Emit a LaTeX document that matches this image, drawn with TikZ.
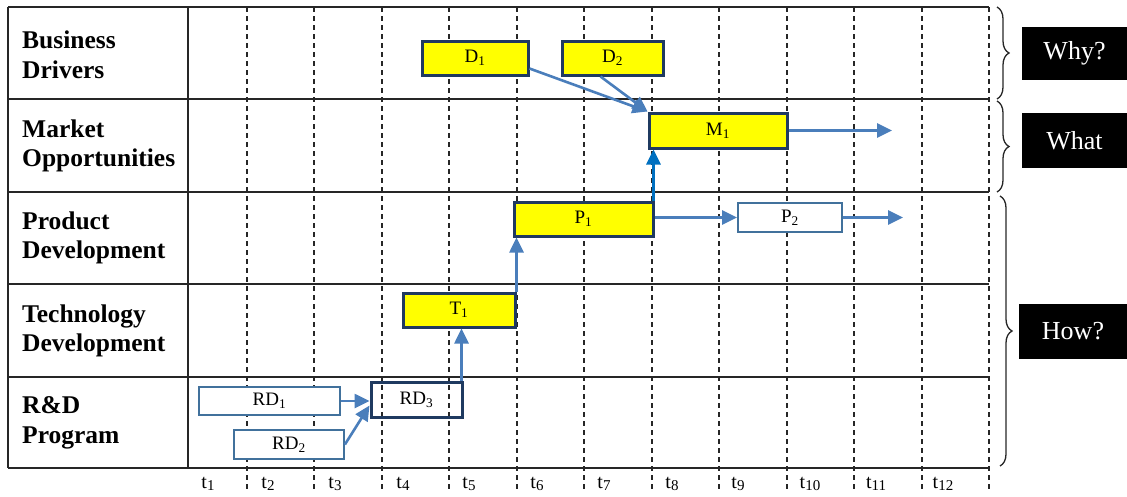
\documentclass[tikz,border=0pt]{standalone}
\usepackage{fontspec}
\setmainfont{Liberation Serif}
\usetikzlibrary{arrows.meta,decorations.pathreplacing,calc}
\definecolor{navy}{HTML}{1F3A60}
\definecolor{arrowblue}{HTML}{4A7EBB}
\definecolor{brightblue}{HTML}{0070C0}
\definecolor{thinblue}{HTML}{41719C}
\definecolor{hlyellow}{HTML}{FFFF00}
% time index: a large subscript
\newcommand{\tsub}[1]{t\raisebox{-0.28ex}{\fontsize{15}{15}\selectfont #1}}

\begin{document}
\begin{tikzpicture}[x=1pt,y=-1pt,
  gridline/.style={line width=1.3pt, black!85},
  timeline/.style={line width=1.1pt, dash pattern=on 5pt off 4pt, black!85},
  rowlabel/.style={anchor=west, align=left, inner sep=0pt,
    font=\fontsize{25.5}{29.5}\selectfont\bfseries},
  boxtext/.style={inner sep=0pt, font=\fontsize{19}{21}\selectfont},
  keybox/.style={boxtext, draw=navy, line width=3pt, fill=hlyellow},
  openbox/.style={boxtext, draw=thinblue, line width=1.8pt, fill=white},
  framebox/.style={boxtext, draw=navy, line width=3pt},
  tlabel/.style={inner sep=0pt, font=\fontsize{20}{22}\selectfont},
  qbox/.style={fill=black, text=white, inner sep=0pt,
    font=\fontsize{26}{28}\selectfont},
  arr/.style={draw=arrowblue, line width=2.6pt,
    -{Triangle[length=15pt,width=14pt]}},
  bigarr/.style={draw=brightblue, line width=3.2pt,
    -{Triangle[length=15pt,width=14pt]}},
  bracket/.style={decorate, decoration={brace, amplitude=12pt},
    line width=1.3pt, black!85},
]
\useasboundingbox (0,0) rectangle (1127,496);

% time columns (dashed), running down through the time axis
\foreach \x in {247,314,382,449,517,584,652,719,787,854,922,989}
  \draw[timeline] (\x,7) -- (\x,492);

% table frame and row separators
\foreach \y in {7,99,192,284,377,468}
  \draw[gridline] (8,\y) -- (989,\y);
\draw[gridline] (8,7) -- (8,468);
\draw[gridline] (188,7) -- (188,468);

% row headings
\node[rowlabel] (lbd) at (22,55) {Business\\Drivers};
\node[rowlabel] (lmo) at (22,146) {Market\\Opportunities};
\node[rowlabel] (lpd) at (22,238) {Product\\Development};
\node[rowlabel] (ltd) at (22,331) {Technology\\Development};
\node[rowlabel] (lrd) at (22,423) {R\&D\\Program};

% time axis labels
\node[tlabel] (t1)  at (208,484) {\tsub{1}};
\node[tlabel] (t2)  at (268,484) {\tsub{2}};
\node[tlabel] (t3)  at (335,484) {\tsub{3}};
\node[tlabel] (t4)  at (403,484) {\tsub{4}};
\node[tlabel] (t5)  at (469,484) {\tsub{5}};
\node[tlabel] (t6)  at (537,484) {\tsub{6}};
\node[tlabel] (t7)  at (604,484) {\tsub{7}};
\node[tlabel] (t8)  at (672,484) {\tsub{8}};
\node[tlabel] (t9)  at (738,484) {\tsub{9}};
\node[tlabel] (t10) at (810,484) {\tsub{10}};
\node[tlabel] (t11) at (876,484) {\tsub{11}};
\node[tlabel] (t12) at (943,484) {\tsub{12}};

% activity boxes
\node[keybox, minimum width=106, minimum height=34] (D1) at (475,58) {D\textsubscript{1}};
\node[keybox, minimum width=101, minimum height=34] (D2) at (612.5,58) {D\textsubscript{2}};
\node[keybox, minimum width=138, minimum height=35] (M1) at (718,130.5) {M\textsubscript{1}};
\node[keybox, minimum width=139, minimum height=34] (P1) at (583.5,219) {P\textsubscript{1}};
\node[openbox, minimum width=104, minimum height=29] (P2) at (790,217.5) {P\textsubscript{2}};
\node[keybox, minimum width=112, minimum height=34] (T1) at (459,310) {T\textsubscript{1}};
\node[openbox, minimum width=141, minimum height=28] (RD1) at (269.5,401) {RD\textsubscript{1}};
\node[openbox, minimum width=110, minimum height=29] (RD2) at (289,444.5) {RD\textsubscript{2}};
\node[framebox, minimum width=91, minimum height=35] (RD3) at (416.5,399.5) {RD\textsubscript{3}};

% open ends of the continuing arrows
\coordinate (M1end) at (892,130.5);
\coordinate (P2end) at (903,217.5);

% dependencies
\draw[arr] (RD1.east) -- (RD1.east -| RD3.west);
\draw[arr] (RD2.east) -- ([yshift=-6]RD3.west);
\draw[arr] ([xshift=-2]RD3.north east) -- ([xshift=-2]RD3.north east |- T1.south);
\draw[arr] (T1.north east) -- (T1.north east |- P1.south);
\draw[bigarr] ([xshift=-1]P1.north east) -- ([xshift=-1]P1.north east |- M1.south);
\draw[arr] (P2.west -| P1.east) -- (P2.west);
\draw[arr] (P2.east) -- (P2end);
\draw[arr] (M1.east) -- (M1end);
\draw[arr] ([yshift=8]D1.south east) -- (M1.north west);
\draw[arr] ([xshift=-12]D2.south) -- (M1.north west);

% grouping braces and their questions
\draw[bracket] (997,7) -- (997,99);
\draw[bracket] (997,101) -- (997,192);
\draw[bracket] (1000,196) -- (1000,466);
\node[qbox, minimum width=105, minimum height=53] (why) at (1074.5,53.5) {Why?};
\node[qbox, minimum width=105, minimum height=55] (what) at (1074.5,140.5) {What};
\node[qbox, minimum width=108, minimum height=55] (how) at (1073,331.5) {How?};
\end{tikzpicture}
\end{document}
